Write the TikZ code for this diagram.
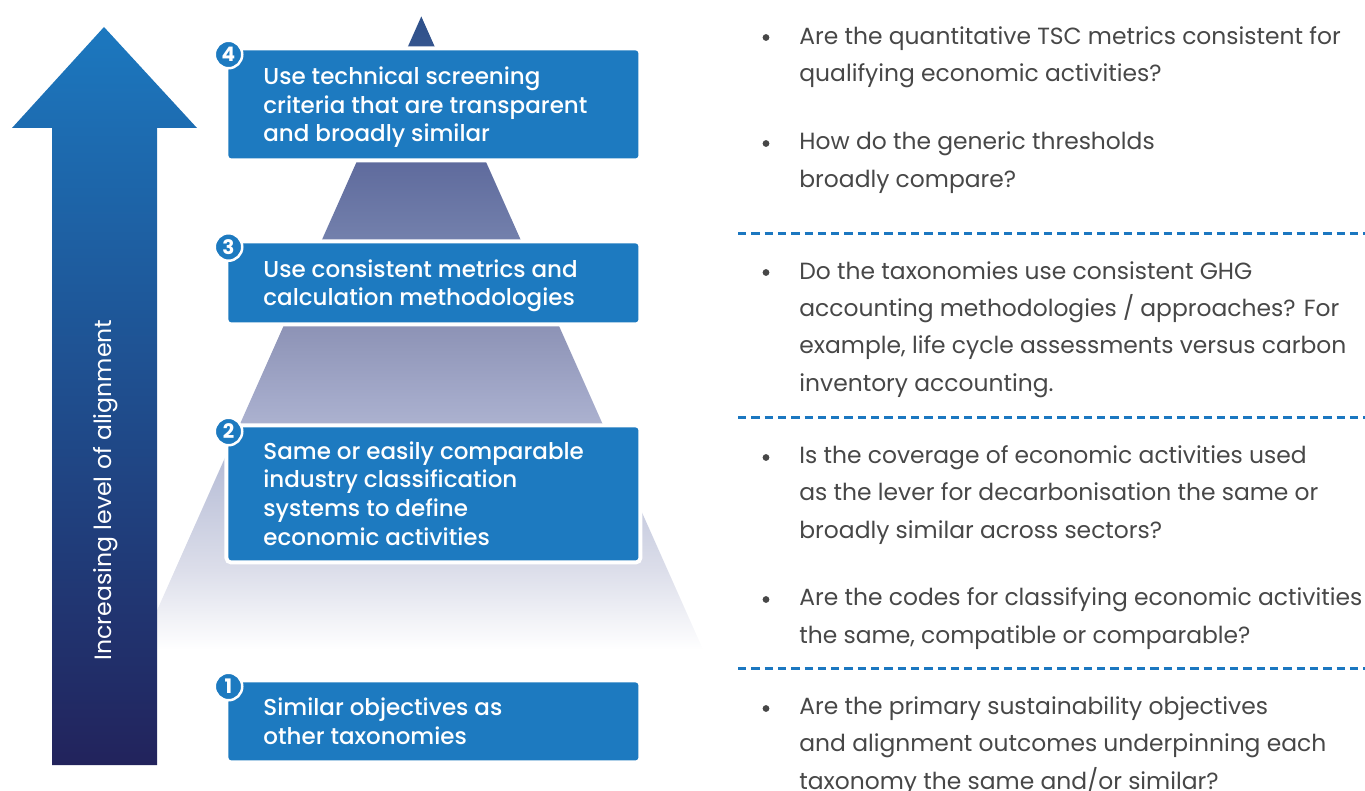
\documentclass[tikz,border=0pt]{standalone}
\usepackage{fontspec}
\setmainfont{Poppins}
\newfontfamily\medfont{Poppins Medium}
\definecolor{boxblue}{HTML}{1D7AC0}
\definecolor{arrtop}{HTML}{1C78BF}
\definecolor{arrbot}{HTML}{22235C}
\definecolor{qtext}{HTML}{474747}
\definecolor{dashblue}{HTML}{1B77C0}
\definecolor{pA}{HTML}{2D508A}
\definecolor{pB}{HTML}{35558E}
\definecolor{pC}{HTML}{5F6B9D}
\definecolor{pD}{HTML}{7380AC}
\definecolor{pE}{HTML}{8D93B6}
\definecolor{pF}{HTML}{A4AACA}
\definecolor{pG}{HTML}{BAC0D8}
\definecolor{pH}{HTML}{DCDEEA}
\pgfdeclareverticalshading{pyrshade}{100bp}{color(0bp)=(white); color(25bp)=(white); color(31.3bp)=(pH); color(39.2bp)=(pG); color(44.7bp)=(pF); color(50.5bp)=(pE); color(57.4bp)=(pD); color(63.5bp)=(pC); color(72.7bp)=(pB); color(75bp)=(pA); color(100bp)=(pA)}
\begin{document}
\begin{tikzpicture}[x=0.5pt,y=-0.5pt,
  boxshape/.style={fill=boxblue, rounded corners=1.5pt, inner sep=0, anchor=north west,
    minimum width=205pt, preaction={draw=white, line width=4pt}},
  badge/.style={circle, fill=boxblue, draw=white, line width=1.25pt, minimum size=13.75pt,
    inner sep=0, text=white, font=\bfseries\fontsize{10}{11}\selectfont},
  boxtext/.style={anchor=base west, align=left, inner sep=0, text=white,
    font=\medfont\fontsize{11.5}{14.3}\selectfont},
  qtxt/.style={anchor=base west, align=left, inner sep=0, text=qtext,
    font=\fontsize{11.7}{18.6}\selectfont},
  bul/.style={circle, fill=qtext, inner sep=0, minimum size=3.4pt},
  sep/.style={draw=dashblue, line width=1.5pt, dash pattern=on 4.15pt off 2.5pt}
]
\useasboundingbox (0,0) rectangle (1365,791);
% pyramid
\begin{scope}
\clip (421.3,16.5) -- (703.2,650) -- (139.4,650) -- cycle;
\shade[shading=pyrshade] (130,16.5) rectangle (710,650);
\end{scope}
% big arrow
\shade[top color=arrtop, bottom color=arrbot] (52,765) -- (52,128) -- (12,128) -- (104,27) -- (197,128) -- (157,128) -- (157,765) -- cycle;
\node[rotate=90, anchor=base, inner sep=0, text=white, font=\fontsize{11.8}{13}\selectfont] (lbl) at (111,490) {Increasing level of alignment};
% boxes
\node[boxshape, minimum height=54pt] (b4) at (228,50) {};
\node[boxshape, minimum height=39.5pt] (b3) at (228,243) {};
\node[boxshape, minimum height=66.5pt] (b2) at (228,427) {};
\node[boxshape, minimum height=39pt] (b1) at (228,682) {};
\node[badge] (n4) at (228.5,54.5) {4};
\node[badge] (n3) at (228.5,247) {3};
\node[badge] (n2) at (228.5,431.5) {2};
\node[badge] (n1) at (228.5,686.5) {1};
% box texts (anchored at the baseline of their last line)
\node[boxtext] (t4) at (263,142) {Use technical screening\\criteria that are transparent\\and broadly similar};
\node[boxtext] (t3) at (263,306) {Use consistent metrics and\\calculation methodologies};
\node[boxtext] (t2) at (263,545) {Same or easily comparable\\industry classification\\systems to define\\economic activities};
\node[boxtext] (t1) at (263,744.5) {Similar objectives as\\other taxonomies};
% right side (texts anchored at the baseline of their last line)
\node[bul] (d1) at (766,37.5) {};
\node[qtxt] (q1) at (799,81.5) {Are the quantitative TSC metrics consistent for\\qualifying economic activities?};
\node[bul] (d2) at (766,143.5) {};
\node[qtxt] (q2) at (799,187.2) {How do the generic thresholds\\broadly compare?};
\coordinate (s1a) at (738,234); \coordinate (s1b) at (1365,234);
\draw[sep] (s1a) -- (s1b);
\node[bul] (d3) at (766,272.5) {};
\node[qtxt] (q3) at (799,391) {Do the taxonomies use consistent GHG\\accounting methodologies / approaches? For\\example, life cycle assessments versus carbon\\inventory accounting.};
\coordinate (s2a) at (738,417); \coordinate (s2b) at (1365,417);
\draw[sep] (s2a) -- (s2b);
\node[bul] (d4) at (766,457.5) {};
\node[qtxt] (q4) at (799,538) {Is the coverage of economic activities used\\as the lever for decarbonisation the same or\\broadly similar across sectors?};
\node[bul] (d5) at (766,599.5) {};
\node[qtxt] (q5) at (799,643) {Are the codes for classifying economic activities\\the same, compatible or comparable?};
\coordinate (s3a) at (738,668); \coordinate (s3b) at (1365,668);
\draw[sep] (s3a) -- (s3b);
\node[bul] (d6) at (766,708.5) {};
\node[qtxt] (q6) at (799,789) {Are the primary sustainability objectives\\and alignment outcomes underpinning each\\taxonomy the same and/or similar?};
\end{tikzpicture}
\end{document}
